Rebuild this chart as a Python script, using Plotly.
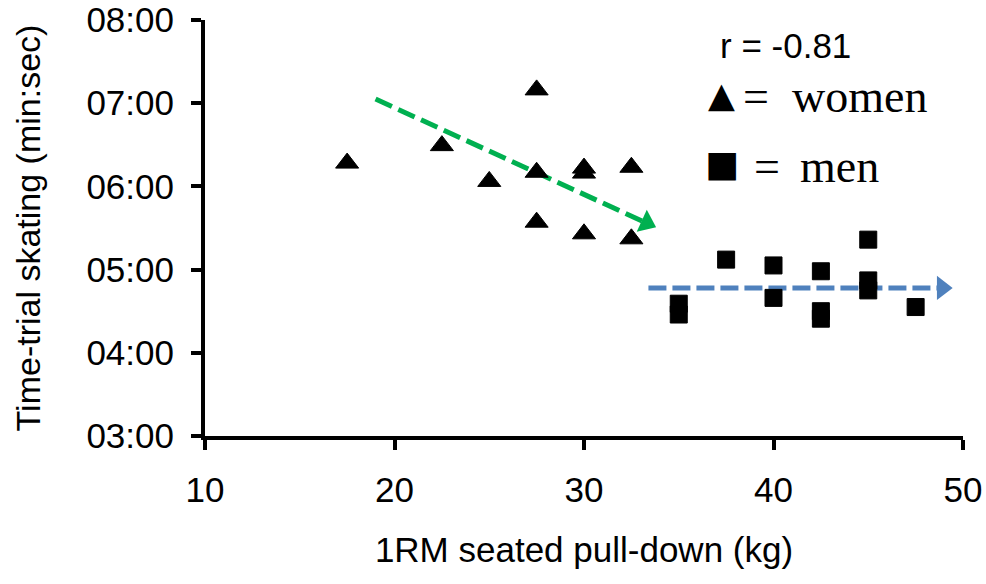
import plotly.graph_objects as go

# ---- data ----
women_x = [17.5, 22.5, 25.0, 27.5, 27.5, 27.5, 30.0, 30.0, 30.0, 32.5, 32.5]
women_y = [6.28, 6.49, 6.06, 7.16, 6.17, 5.57, 6.22, 6.16, 5.43, 6.23, 5.37]
men_x = [35.0, 35.0, 37.5, 40.0, 40.0, 42.5, 42.5, 42.5, 45.0, 45.0, 45.0, 47.5]
men_y = [4.59, 4.46, 5.12, 5.05, 4.66, 4.98, 4.50, 4.41, 5.36, 4.87, 4.75, 4.55]

x_ticks = [10, 20, 30, 40, 50]
y_ticks = [3, 4, 5, 6, 7, 8]
y_ticktext = ["03:00", "04:00", "05:00", "06:00", "07:00", "08:00"]

green_arrow_x = [19.0, 33.3]
green_arrow_y = [7.05, 5.56]
blue_arrow_x = [33.4, 48.9]
blue_arrow_y = [4.78, 4.78]

GREEN = "#00B050"
BLUE = "#4F81BD"
SANS = "Liberation Sans, Arial, sans-serif"
SERIF = "Liberation Serif, Times New Roman, serif"

fig = go.Figure()

# trend arrows (dashed lines + heads)
fig.add_trace(go.Scatter(x=green_arrow_x, y=green_arrow_y, mode="lines",
                         line=dict(color=GREEN, width=5, dash="18px,7px"),
                         hoverinfo="skip", showlegend=False))
fig.add_trace(go.Scatter(x=[green_arrow_x[1]], y=[green_arrow_y[1]], mode="markers",
                         marker=dict(symbol="triangle-right", size=21, color=GREEN, angle=24.5),
                         hoverinfo="skip", showlegend=False))
fig.add_trace(go.Scatter(x=blue_arrow_x, y=blue_arrow_y, mode="lines",
                         line=dict(color=BLUE, width=5, dash="18px,6px"),
                         hoverinfo="skip", showlegend=False))
fig.add_trace(go.Scatter(x=[blue_arrow_x[1]], y=[blue_arrow_y[1]], mode="markers",
                         marker=dict(symbol="triangle-right", size=21, color=BLUE),
                         hoverinfo="skip", showlegend=False))

# data points
fig.add_trace(go.Scatter(x=women_x, y=women_y, mode="markers", name="women",
                         marker=dict(symbol="triangle-up", size=20, color="black",
                                     line=dict(color="black", width=1)),
                         showlegend=False))
fig.add_trace(go.Scatter(x=men_x, y=men_y, mode="markers", name="men",
                         marker=dict(symbol="square", size=17, color="black",
                                     line=dict(color="black", width=1)),
                         showlegend=False))

annotations = [
    dict(x=37.07, y=7.69, text="r = -0.81", font=dict(family=SANS, size=35)),
    dict(x=36.45, y=7.1, text="▲", font=dict(family="DejaVu Sans", size=35)),
    dict(x=38.3, y=7.08, text="=", font=dict(family=SERIF, size=46)),
    dict(x=40.85, y=7.08, text="women", font=dict(family=SERIF, size=46)),
    dict(x=36.3, y=6.28, text="■", font=dict(family="DejaVu Sans", size=36)),
    dict(x=38.85, y=6.24, text="=", font=dict(family=SERIF, size=46)),
    dict(x=41.3, y=6.24, text="men", font=dict(family=SERIF, size=46)),
]
for a in annotations:
    a.update(xref="x", yref="y", xanchor="left", yanchor="middle", showarrow=False)
    a["font"]["color"] = "black"

fig.update_layout(
    width=986, height=584,
    margin=dict(l=205, r=23, t=20, b=148),
    plot_bgcolor="white", paper_bgcolor="white",
    annotations=annotations,
    font=dict(family=SANS, color="black"),
)
fig.update_xaxes(range=[10, 50], tickvals=x_ticks, showgrid=False, zeroline=False,
                 automargin=False,
                 showline=True, linewidth=4, linecolor="black",
                 ticks="outside", ticklen=10, tickwidth=4, tickcolor="black",
                 tickfont=dict(family=SANS, size=35, color="black"),
                 ticklabelstandoff=10,
                 title=dict(text="1RM seated pull-down (kg)", standoff=30,
                            font=dict(family=SANS, size=35, color="black")))
fig.update_yaxes(range=[3, 8], tickvals=y_ticks, ticktext=y_ticktext, showgrid=False,
                 automargin=False,
                 zeroline=False, showline=True, linewidth=4, linecolor="black",
                 ticks="outside", ticklen=10, tickwidth=4, tickcolor="black",
                 tickfont=dict(family=SANS, size=35, color="black"),
                 ticklabelstandoff=10,
                 title=dict(text="Time-trial skating (min:sec)", standoff=37,
                            font=dict(family=SANS, size=34, color="black")))

fig.write_html("out.html")
